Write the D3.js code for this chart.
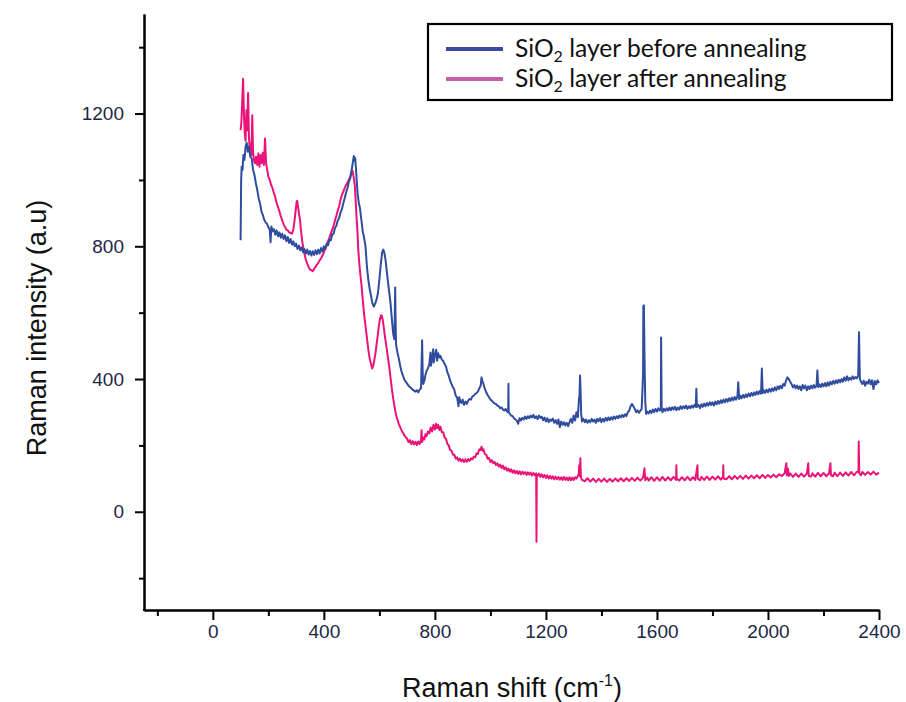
<!DOCTYPE html>
<html>
<head>
<meta charset="utf-8">
<script src="https://cdn.jsdelivr.net/npm/d3@7"></script>
<style>
  html, body { margin: 0; padding: 0; background: #fff; }
  svg { display: block; }
</style>
</head>
<body>
<svg id="chart" width="906" height="702"></svg>
<script>
// ---- Data ----
const seriesNames = ["SiO\u2082 layer before annealing", "SiO\u2082 layer after annealing"];
const xMajorTicks = [0, 400, 800, 1200, 1600, 2000, 2400];
const xMinorTicks = [-200, 200, 600, 1000, 1400, 1800, 2200];
const yMajorTicks = [0, 400, 800, 1200];
const yMinorTicks = [-200, 200, 600, 1000, 1400];

// [Raman shift (cm-1), intensity (a.u)]
const beforeAnnealing = [
[100,818],[102,1000],[104,1040],[107,1030],[110,1075],[114,1060],[118,1100],[122,1112],[126,1085],[130,1100],
[135,1070],[140,1065],[145,1030],[150,1015],[155,990],[160,970],[165,945],[170,930],[175,905],[180,895],
[185,880],[190,872],[195,868],[200,858],[205,850],[208,812],[211,860],[215,845],[220,852],[225,835],
[230,848],[235,830],[240,842],[245,826],[250,838],[255,822],[260,833],[265,815],[270,828],[275,810],
[280,822],[285,805],[290,815],[295,800],[300,808],[305,792],[310,802],[315,788],[320,797],[325,782],
[330,792],[335,778],[340,790],[345,775],[350,786],[355,772],[360,785],[365,774],[370,788],[375,776],
[380,790],[385,778],[390,795],[395,784],[400,800],[405,792],[410,808],[415,803],[420,820],[425,818],
[430,835],[435,838],[440,855],[445,862],[450,878],[455,885],[460,902],[465,912],[470,930],[475,945],
[480,962],[485,975],[490,995],[495,1005],[500,1030],[503,1045],[506,1062],[508,1072],[510,1058],[513,1066],
[516,1030],[519,990],[522,955],[526,930],[530,915],[535,880],[540,845],[545,825],[550,800],[555,740],
[560,700],[565,672],[570,650],[575,628],[580,618],[585,628],[590,640],[595,660],[600,700],[605,745],
[610,782],[614,790],[618,780],[622,760],[626,730],[630,700],[635,665],[640,630],[645,580],[650,535],
[654,520],[656,620],[657,676],[658,600],[660,505],[665,480],[670,462],[675,440],[680,422],[685,410],
[690,398],[695,392],[700,386],[705,380],[710,376],[715,372],[720,368],[725,365],[730,362],[735,366],
[740,360],[745,368],[750,372],[752,440],[754,517],[756,420],[758,385],[762,395],[766,412],[770,425],
[775,432],[780,445],[784,480],[786,440],[790,462],[794,490],[796,450],[800,472],[805,488],[808,455],
[812,478],[816,465],[820,470],[825,458],[830,455],[835,445],[840,438],[845,420],[850,410],[855,395],
[860,385],[865,375],[870,368],[875,350],[880,345],[885,318],[888,345],[892,330],[896,328],[900,338],
[905,322],[910,332],[915,325],[920,335],[925,340],[930,338],[935,348],[940,350],[945,355],[950,358],
[955,362],[960,372],[965,380],[968,405],[971,395],[975,385],[980,370],[985,360],[990,352],[995,345],
[1000,338],[1005,335],[1010,330],[1015,326],[1020,325],[1025,320],[1030,318],[1035,312],[1040,315],[1045,308],
[1050,305],[1055,310],[1060,302],[1064,300],[1065,386],[1066,300],[1070,295],[1075,290],[1080,288],[1085,282],
[1090,278],[1095,275],[1100,265],[1105,282],[1110,275],[1115,283],[1120,278],[1125,287],[1130,280],[1135,288],
[1140,282],[1145,290],[1150,284],[1155,292],[1160,282],[1165,288],[1170,279],[1175,290],[1180,283],[1185,286],
[1190,276],[1195,284],[1200,272],[1205,282],[1210,270],[1215,278],[1220,274],[1225,281],[1230,268],[1235,276],
[1240,265],[1245,278],[1250,255],[1255,272],[1260,262],[1265,270],[1270,260],[1275,268],[1280,258],[1285,270],
[1290,280],[1295,268],[1300,290],[1305,275],[1310,300],[1315,285],[1319,340],[1321,350],[1323,411],[1325,360],
[1327,295],[1330,272],[1335,280],[1340,270],[1345,278],[1350,268],[1355,276],[1360,270],[1365,280],[1370,272],
[1375,278],[1380,268],[1385,280],[1390,273],[1395,282],[1400,270],[1405,280],[1410,272],[1415,283],[1420,275],
[1425,284],[1430,276],[1435,285],[1440,278],[1445,287],[1450,280],[1455,288],[1460,282],[1465,290],[1470,284],
[1475,292],[1480,286],[1485,294],[1490,288],[1495,300],[1500,305],[1505,318],[1510,325],[1515,318],[1520,310],
[1525,300],[1530,306],[1535,298],[1540,304],[1545,310],[1548,370],[1550,420],[1551,620],[1553,622],[1554,552],
[1556,420],[1558,330],[1561,295],[1565,302],[1570,296],[1575,305],[1580,298],[1585,308],[1590,300],[1595,310],
[1600,302],[1605,312],[1610,305],[1614,310],[1615,525],[1617,310],[1620,300],[1625,310],[1630,304],[1635,312],
[1640,305],[1645,314],[1650,306],[1655,315],[1660,308],[1665,316],[1670,306],[1675,314],[1680,308],[1685,318],
[1690,310],[1695,318],[1700,312],[1705,320],[1710,310],[1715,318],[1720,312],[1725,320],[1730,314],[1735,322],
[1740,316],[1742,371],[1744,316],[1750,322],[1755,312],[1760,324],[1765,316],[1770,326],[1775,318],[1780,328],
[1785,320],[1790,330],[1795,322],[1800,330],[1805,320],[1810,332],[1815,324],[1820,334],[1825,326],[1830,336],
[1835,328],[1840,338],[1845,330],[1850,340],[1855,332],[1860,342],[1865,334],[1870,344],[1875,336],[1880,346],
[1885,338],[1890,348],[1893,390],[1896,340],[1900,350],[1905,342],[1910,352],[1915,344],[1920,354],[1925,346],
[1930,356],[1935,348],[1940,358],[1945,350],[1950,360],[1955,352],[1960,362],[1965,354],[1970,364],[1975,356],
[1978,432],[1981,358],[1985,366],[1990,358],[1995,368],[2000,360],[2005,370],[2010,362],[2015,372],[2020,364],
[2025,375],[2030,366],[2035,378],[2040,370],[2045,380],[2050,372],[2055,385],[2060,380],[2065,395],[2070,405],
[2075,400],[2080,392],[2085,385],[2090,375],[2095,382],[2100,372],[2105,380],[2110,370],[2115,378],[2120,366],
[2125,382],[2130,372],[2135,380],[2140,366],[2145,378],[2150,370],[2155,380],[2160,372],[2165,382],[2170,374],
[2175,380],[2178,426],[2181,376],[2185,384],[2190,376],[2195,386],[2200,378],[2205,388],[2210,378],[2215,390],
[2220,380],[2225,392],[2230,384],[2235,394],[2240,386],[2245,396],[2250,388],[2255,398],[2260,390],[2265,400],
[2270,392],[2275,405],[2280,395],[2285,408],[2290,396],[2295,404],[2300,398],[2305,408],[2310,400],[2315,406],
[2320,402],[2325,410],[2328,541],[2331,400],[2335,392],[2340,385],[2345,395],[2350,380],[2355,392],[2360,386],
[2365,398],[2370,384],[2375,396],[2380,370],[2385,394],[2390,384],[2395,396],[2400,388]
];

const afterAnnealing = [
[100,1150],[103,1175],[106,1240],[109,1305],[112,1200],[115,1140],[118,1118],[121,1210],[124,1150],[127,1262],
[130,1130],[133,1090],[136,1110],[139,1075],[142,1195],[145,1085],[148,1060],[152,1050],[156,1070],[160,1045],
[164,1080],[168,1040],[172,1075],[176,1050],[180,1082],[184,1045],[188,1125],[192,1050],[196,1030],[200,1010],
[205,1000],[210,985],[215,975],[220,960],[225,948],[230,930],[235,918],[240,905],[245,890],[250,878],
[255,866],[260,858],[265,850],[270,848],[275,842],[280,840],[285,838],[290,850],[294,875],[298,905],
[302,935],[304,937],[306,925],[310,900],[314,880],[318,845],[322,815],[326,796],[330,778],[335,760],
[340,748],[345,738],[350,730],[355,728],[360,725],[365,732],[370,738],[375,745],[380,750],[385,758],
[390,764],[395,772],[400,782],[405,792],[410,802],[415,815],[420,826],[425,838],[430,850],[435,862],
[440,878],[445,892],[450,908],[455,920],[460,940],[465,955],[470,965],[475,975],[480,985],[485,992],
[490,1000],[495,1010],[500,1022],[503,1028],[506,1015],[509,1000],[512,978],[515,930],[518,885],[521,845],
[524,790],[528,745],[532,710],[536,680],[540,640],[545,595],[550,560],[555,525],[560,490],[565,462],
[570,445],[574,432],[578,440],[582,458],[586,478],[590,505],[594,530],[598,560],[602,580],[606,592],
[609,590],[612,578],[616,555],[620,528],[625,500],[630,470],[635,440],[640,405],[645,370],[650,340],
[655,315],[660,292],[665,278],[670,265],[675,255],[680,245],[685,238],[690,230],[695,225],
[700,220],[705,210],[710,216],[715,204],[720,213],[725,203],[730,211],[735,201],[740,212],[745,204],
[750,217],[752,246],[754,210],[758,224],[762,218],[766,234],[770,228],[775,242],[780,236],[785,254],
[790,242],[795,262],[800,248],[804,265],[808,252],[812,262],[816,246],[820,256],[825,240],[830,240],
[835,224],[840,220],[845,204],[850,200],[855,186],[860,184],[865,172],[870,172],[875,160],[880,164],
[885,154],[890,160],[895,152],[900,158],[905,150],[910,158],[915,151],[920,159],[925,153],[930,161],
[935,158],[940,166],[945,164],[950,176],[955,174],[960,188],[965,186],[968,196],[972,184],[975,188],
[980,174],[985,172],[990,160],[995,162],[1000,150],[1005,156],[1010,146],[1015,150],[1020,141],[1025,146],
[1030,136],[1035,142],[1040,132],[1045,139],[1050,128],[1055,134],[1060,124],[1065,130],[1070,121],[1075,128],
[1080,118],[1085,125],[1090,116],[1095,123],[1100,114],[1105,122],[1110,113],[1115,121],[1120,114],[1125,120],
[1130,111],[1135,119],[1140,112],[1145,118],[1150,109],[1155,117],[1160,110],[1165,116],[1166,-90],[1167,112],
[1170,108],[1175,115],[1180,105],[1185,113],[1190,104],[1195,111],[1200,102],[1205,110],[1210,100],[1215,108],
[1220,100],[1225,107],[1230,98],[1235,106],[1240,98],[1245,105],[1250,97],[1255,104],[1260,96],[1265,105],
[1270,96],[1275,103],[1280,95],[1285,104],[1290,95],[1295,103],[1300,96],[1305,104],[1310,100],[1315,108],
[1318,112],[1320,140],[1322,108],[1324,161],[1326,104],[1330,96],[1340,92],[1350,101],[1360,91],[1370,100],
[1380,90],[1390,99],[1400,91],[1410,100],[1420,90],[1430,99],[1440,91],[1450,100],[1460,92],[1470,101],
[1480,92],[1490,101],[1500,93],[1510,102],[1520,93],[1530,103],[1540,94],[1550,103],[1555,131],[1558,95],
[1565,103],[1570,94],[1580,104],[1590,93],[1600,104],[1610,94],[1620,105],[1630,94],[1640,104],[1650,95],
[1660,105],[1669,96],[1670,140],[1671,100],[1680,94],[1690,104],[1700,95],[1710,105],[1720,95],[1730,104],
[1738,96],[1746,140],[1747,100],[1755,95],[1760,105],[1770,96],[1780,106],[1790,96],[1800,106],[1810,97],
[1820,107],[1830,97],[1838,106],[1839,140],[1840,100],[1850,98],[1860,107],[1870,98],[1880,108],[1890,99],
[1900,108],[1910,99],[1920,109],[1930,100],[1940,109],[1950,101],[1960,110],[1970,101],[1980,111],[1990,102],
[2000,111],[2010,103],[2020,112],[2030,104],[2040,113],[2050,108],[2060,116],[2066,146],[2068,110],[2072,130],
[2075,108],[2080,116],[2090,105],[2100,115],[2110,105],[2120,115],[2130,106],[2140,115],[2145,146],[2147,108],
[2155,106],[2160,116],[2170,106],[2180,117],[2190,107],[2200,117],[2210,107],[2220,116],[2225,146],[2227,110],
[2235,107],[2240,118],[2250,107],[2260,118],[2270,108],[2280,119],[2290,109],[2300,120],[2310,110],[2320,120],
[2326,122],[2327,212],[2329,116],[2335,110],[2340,120],[2350,111],[2360,120],[2370,112],[2380,121],[2390,112],
[2400,118]
];

const lineColors = ["#2f4c9f", "#ea1479"];
const legendColors = ["#3a4aa3", "#c35ea9"];

// ---- Drawing ----
const svg = d3.select("#chart");
const x = d3.scaleLinear().domain([-248, 2400]).range([144, 879]);
const y = d3.scaleLinear().domain([-296, 1500]).range([610, 14]);

const tickFont = "'Liberation Sans', Arial, sans-serif";
const tickColor = "#1d2746";

const line = d3.line().x(d => x(d[0])).y(d => y(d[1]));

// curves (after first, before on top)
svg.append("path").datum(afterAnnealing)
  .attr("d", line).attr("fill", "none")
  .attr("stroke", lineColors[1]).attr("stroke-width", 2).attr("stroke-linejoin", "round");
svg.append("path").datum(beforeAnnealing)
  .attr("d", line).attr("fill", "none")
  .attr("stroke", lineColors[0]).attr("stroke-width", 2).attr("stroke-linejoin", "round");

// X axis
const gx = svg.append("g").attr("transform", "translate(0,610)");
gx.call(d3.axisBottom(x).tickValues(xMajorTicks).tickSize(10).tickSizeOuter(0).tickPadding(5).tickFormat(d3.format("d")));
gx.append("g").call(d3.axisBottom(x).tickValues(xMinorTicks).tickSize(6).tickSizeOuter(0).tickFormat(""));
gx.selectAll(".domain").attr("stroke", "#000").attr("stroke-width", 2);
gx.selectAll(".tick line").attr("stroke", "#000").attr("stroke-width", 2);
gx.selectAll(".tick text").attr("font-family", tickFont).attr("font-size", 19).attr("fill", tickColor);

// Y axis
const gy = svg.append("g").attr("transform", "translate(144,0)");
gy.call(d3.axisLeft(y).tickValues(yMajorTicks).tickSize(9).tickSizeOuter(0).tickPadding(11).tickFormat(d3.format("d")));
gy.append("g").call(d3.axisLeft(y).tickValues(yMinorTicks).tickSize(5).tickSizeOuter(0).tickFormat(""));
gy.selectAll(".domain").attr("stroke", "#000").attr("stroke-width", 2);
gy.selectAll(".tick line").attr("stroke", "#000").attr("stroke-width", 2);
gy.selectAll(".tick text").attr("font-family", tickFont).attr("font-size", 19).attr("fill", tickColor);
svg.append("rect").attr("x", 143).attr("y", 609).attr("width", 2).attr("height", 2).attr("fill", "#000");

// Axis titles
const xt = svg.append("text")
  .attr("x", 512).attr("y", 697)
  .attr("text-anchor", "middle")
  .attr("font-family", tickFont).attr("font-size", 27).attr("fill", "#111");
xt.append("tspan").text("Raman shift (cm");
xt.append("tspan").attr("dy", -11).attr("font-size", 16).text("-1");
xt.append("tspan").attr("dy", 11).text(")");

svg.append("text")
  .attr("transform", "translate(46,328) rotate(-90)")
  .attr("text-anchor", "middle")
  .attr("font-family", tickFont).attr("font-size", 27).attr("fill", "#111")
  .text("Raman intensity (a.u)");

// Legend
const lg = svg.append("g");
lg.append("rect").attr("x", 428).attr("y", 24).attr("width", 464).attr("height", 76)
  .attr("fill", "#fff").attr("stroke", "#000").attr("stroke-width", 2.2);
const legendFont = "Lato, 'Open Sans', sans-serif";
seriesNames.forEach((name, i) => {
  const ly = 49 + i * 30;
  lg.append("line").attr("x1", 446).attr("x2", 503).attr("y1", ly).attr("y2", ly)
    .attr("stroke", legendColors[i]).attr("stroke-width", 4);
  const t = lg.append("text").attr("x", 515).attr("y", ly + 8)
    .attr("font-family", legendFont).attr("font-size", 24.6).attr("fill", "#111");
  const parts = name.split("\u2082");
  t.append("tspan").text(parts[0]);
  t.append("tspan").attr("dy", 5).attr("font-size", 16).text("2");
  t.append("tspan").attr("dy", -5).text(parts[1]);
});
</script>
</body>
</html>
